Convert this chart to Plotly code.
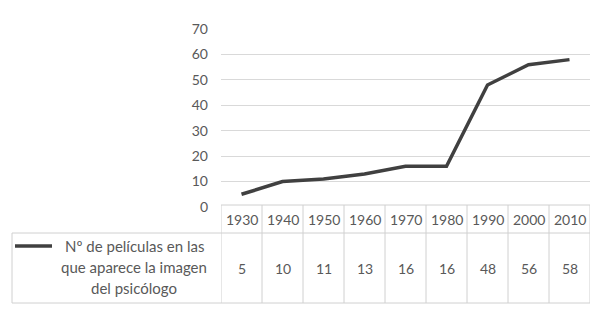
import plotly.graph_objects as go

years = ["1930", "1940", "1950", "1960", "1970", "1980", "1990", "2000", "2010"]
values = [5, 10, 11, 13, 16, 16, 48, 56, 58]
series_lines = ["Nº de películas en las", "que aparece la imagen", "del psicólogo"]
y_ticks = [0, 10, 20, 30, 40, 50, 60, 70]

FONT = "Lato, 'Open Sans', sans-serif"
TXT = "#595959"
GRID = "#d9d9d9"
BORDER = "#d0d0d0"

OFF = 8  # browser body margin
W, H = 600 - OFF, 317 - OFF
L, R, T = 221 - OFF, 10, 29 - OFF
B = H - (207 - OFF)
ph = H - T - B
pw = W - L - R


def py(ref_y):
    return (H - B - (ref_y - OFF)) / ph


def px(ref_x):
    return (ref_x - OFF - L) / pw


idx = list(range(len(years)))

fig = go.Figure()
fig.add_trace(go.Scatter(
    x=idx, y=values, mode="lines",
    line=dict(color="#404040", width=3.5),
    showlegend=False, hoverinfo="skip"))

shapes = []
ann = []
hdr_top, hdr_bot, row_bot = py(205), py(233), py(303)
line = dict(color=BORDER, width=1)

for i in range(len(years) + 1):
    xv = i - 0.5
    shapes.append(dict(type="line", xref="x", yref="paper", x0=xv, x1=xv,
                       y0=hdr_top, y1=row_bot, line=line))
shapes.append(dict(type="line", xref="paper", yref="paper", x0=0, x1=1,
                   y0=hdr_top, y1=hdr_top, line=line))
shapes.append(dict(type="line", xref="paper", yref="paper", x0=px(12), x1=1,
                   y0=hdr_bot, y1=hdr_bot, line=line))
shapes.append(dict(type="line", xref="paper", yref="paper", x0=px(12), x1=1,
                   y0=row_bot, y1=row_bot, line=line))
shapes.append(dict(type="line", xref="paper", yref="paper", x0=px(12), x1=px(12),
                   y0=hdr_bot, y1=row_bot, line=line))
# legend key
shapes.append(dict(type="line", xref="paper", yref="paper",
                   x0=px(15), x1=px(52), y0=py(246), y1=py(246),
                   line=dict(color="#404040", width=3.5)))

common = dict(showarrow=False, xanchor="center", yanchor="middle")
for i, (yr, v) in enumerate(zip(years, values)):
    ann.append(dict(x=i, y=py(219), xref="x", yref="paper", text=yr,
                    font=dict(family=FONT, size=14, color=TXT), **common))
    ann.append(dict(x=i, y=py(268), xref="x", yref="paper", text=str(v),
                    font=dict(family=FONT, size=14, color=TXT), **common))

for k, t in enumerate(series_lines):
    ann.append(dict(x=px(134), y=py(246 + 21 * k), xref="paper", yref="paper",
                    text=t, font=dict(family=FONT, size=15, color=TXT), **common))

fig.update_layout(
    width=W, height=H,
    margin=dict(l=L, r=R, t=T, b=B),
    paper_bgcolor="white", plot_bgcolor="white",
    xaxis=dict(range=[-0.5, len(years) - 0.5], showticklabels=False, showgrid=False,
               zeroline=False, showline=False, fixedrange=True),
    yaxis=dict(range=[0, 70.05], tickvals=y_ticks, showgrid=True, gridcolor=GRID,
               gridwidth=1, zeroline=False, showline=False, ticklabelstandoff=12,
               tickfont=dict(family=FONT, size=14, color=TXT), fixedrange=True),
    shapes=shapes, annotations=ann,
)
fig.write_html("out.html")
